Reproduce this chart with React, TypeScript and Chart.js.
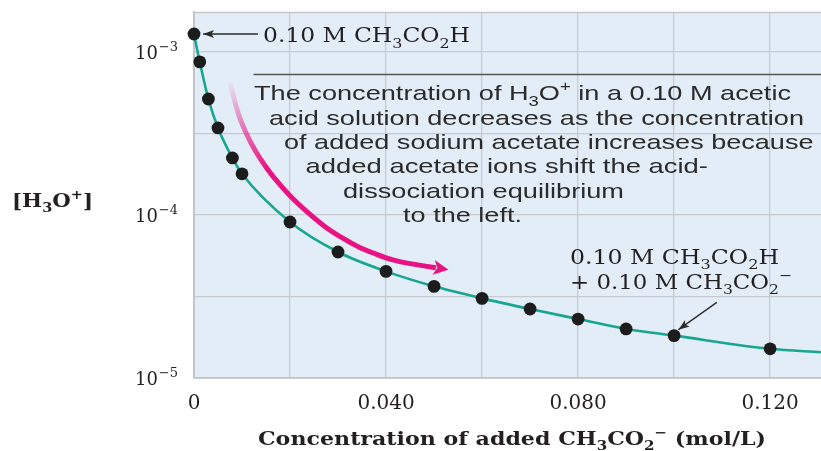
import React, { useEffect, useRef } from "react";
import { Chart, registerables } from "chart.js";
Chart.register(...registerables);

// ---- data ----
const conc = [0, 0.0012, 0.003, 0.005, 0.008, 0.010, 0.020, 0.030, 0.040, 0.050, 0.060, 0.070, 0.080, 0.090, 0.100, 0.120];
const h3o = [1.29e-3, 8.7e-4, 5.15e-4, 3.42e-4, 2.24e-4, 1.79e-4, 9.06e-5, 5.93e-5, 4.51e-5, 3.65e-5, 3.08e-5, 2.65e-5, 2.30e-5, 2.00e-5, 1.82e-5, 1.51e-5];
const curveEndX = [0.1306];
const curveEndY = [1.44e-5];

const xTickValues = [0, 0.02, 0.04, 0.06, 0.08, 0.10, 0.12];
const xTickLabels = ["0", "", "0.040", "", "0.080", "", "0.120"];
const yGridValues = [1e-5, 3.1623e-5, 1e-4, 3.1623e-4, 1e-3];
const yDecades = [1e-5, 1e-4, 1e-3];
const yDecadeExp = ["\u22125", "\u22124", "\u22123"];

// pink trend arrow (data space)
const arrowX = [0.0075, 0.00917, 0.01083, 0.0129, 0.0154, 0.0179, 0.0204, 0.02375, 0.0273, 0.0308, 0.0342, 0.0377, 0.04125, 0.045, 0.0504];
const arrowY = [6.48e-4, 4.24e-4, 3.2e-4, 2.445e-4, 1.896e-4, 1.534e-4, 1.277e-4, 1.033e-4, 8.48e-5, 7.26e-5, 6.39e-5, 5.79e-5, 5.32e-5, 5.03e-5, 4.75e-5];
const arrowTip = { x: 0.053, y: 4.62e-5 };

// callout arrows (data space)
const callTop = { fromX: 0.0133, fromY: 1.29e-3, toX: 0.0019, toY: 1.29e-3 };
const callLow = { fromX: 0.1089, fromY: 2.91e-5, toX: 0.1009, toY: 1.98e-5 };

type Seg = { t: string; s?: "sub" | "sup" };

const SERIF = "'DejaVu Serif', serif";
const SANS = "'Liberation Sans', Arial, sans-serif";
const TEXT = "#231f20";

function drawRich(ctx: CanvasRenderingContext2D, segs: Seg[], x: number, y: number, size: number, family: string, weight: string, color: string, targetW?: number, align: "left" | "right" = "left", subScale = 0.68) {
  const fnt = (sz: number) => `${weight} ${sz}px ${family}`;
  let w = 0;
  const widths: number[] = [];
  for (const g of segs) {
    ctx.font = fnt(g.s ? size * subScale : size);
    const mw = ctx.measureText(g.t).width;
    widths.push(mw);
    w += mw;
  }
  ctx.save();
  ctx.fillStyle = color;
  ctx.textBaseline = "alphabetic";
  ctx.textAlign = "left";
  const sx = targetW ? targetW / w : 1;
  const startX = align === "right" ? x - w * sx : x;
  ctx.translate(startX, y);
  ctx.scale(sx, 1);
  let cx = 0;
  segs.forEach((g, i) => {
    const sz = g.s ? size * subScale : size;
    ctx.font = fnt(sz);
    const dy = g.s === "sub" ? size * 0.28 : g.s === "sup" ? -size * 0.42 : 0;
    ctx.fillText(g.t, cx, dy);
    cx += widths[i];
  });
  ctx.restore();
}

function smoothPath(ctx: CanvasRenderingContext2D, pts: { x: number; y: number }[]) {
  ctx.moveTo(pts[0].x, pts[0].y);
  for (let i = 0; i < pts.length - 1; i++) {
    const p0 = pts[i - 1] || pts[i];
    const p1 = pts[i];
    const p2 = pts[i + 1];
    const p3 = pts[i + 2] || p2;
    ctx.bezierCurveTo(
      p1.x + (p2.x - p0.x) / 6, p1.y + (p2.y - p0.y) / 6,
      p2.x - (p3.x - p1.x) / 6, p2.y - (p3.y - p1.y) / 6,
      p2.x, p2.y
    );
  }
}

function arrowHead(ctx: CanvasRenderingContext2D, fx: number, fy: number, tx: number, ty: number, len: number, half: number) {
  const dx = tx - fx, dy = ty - fy;
  const d = Math.hypot(dx, dy) || 1;
  const ux = dx / d, uy = dy / d;
  const bx = tx - ux * len, by = ty - uy * len;
  ctx.beginPath();
  ctx.moveTo(tx, ty);
  ctx.lineTo(bx - uy * half, by + ux * half);
  ctx.lineTo(bx + ux * len * 0.25, by + uy * len * 0.25);
  ctx.lineTo(bx + uy * half, by - ux * half);
  ctx.closePath();
  ctx.fill();
}

const bgPlugin = {
  id: "bg",
  beforeDraw(chart: any) {
    const { ctx, chartArea: a } = chart;
    ctx.save();
    ctx.fillStyle = "#ffffff";
    ctx.fillRect(0, 0, chart.width, chart.height);
    ctx.fillStyle = "#e3edf8";
    ctx.fillRect(a.left, a.top, a.right - a.left, a.bottom - a.top);
    ctx.restore();
  },
  beforeDatasetsDraw(chart: any) {
    const { ctx, chartArea: a } = chart;
    ctx.save();
    ctx.strokeStyle = "#c3c7cc";
    ctx.lineWidth = 1.5;
    ctx.beginPath();
    ctx.moveTo(a.left, a.top + 0.5);
    ctx.lineTo(a.right, a.top + 0.5);
    ctx.stroke();
    ctx.restore();
  },
};

const overlayPlugin = {
  id: "overlay",
  afterDraw(chart: any) {
    const { ctx } = chart;
    const xs = chart.scales.x, ys = chart.scales.y;
    const px = (v: number) => xs.getPixelForValue(v);
    const py = (v: number) => ys.getPixelForValue(v);

    // pink arrow
    const pts = arrowX.map((x, i) => ({ x: px(x), y: py(arrowY[i]) }));
    ctx.save();
    const g = ctx.createLinearGradient(pts[0].x, pts[0].y, pts[4].x, pts[4].y);
    g.addColorStop(0, "rgba(232,18,130,0.04)");
    g.addColorStop(0.5, "rgba(232,18,130,0.55)");
    g.addColorStop(1, "rgba(232,18,130,1)");
    ctx.strokeStyle = g;
    ctx.lineWidth = 5;
    ctx.lineCap = "butt";
    ctx.lineJoin = "round";
    ctx.beginPath();
    smoothPath(ctx, pts);
    ctx.stroke();
    ctx.fillStyle = "rgb(232,18,130)";
    const last = pts[pts.length - 1];
    const tx = px(arrowTip.x), ty = py(arrowTip.y);
    arrowHead(ctx, last.x - (tx - last.x), last.y - (ty - last.y), tx, ty, 15, 7.5);
    ctx.restore();

    // callout arrows
    ctx.save();
    ctx.strokeStyle = "#2a2a2a";
    ctx.fillStyle = "#2a2a2a";
    ctx.lineWidth = 1.3;
    for (const c of [callTop, callLow]) {
      const fx = px(c.fromX), fy = py(c.fromY), tx2 = px(c.toX), ty2 = py(c.toY);
      ctx.beginPath();
      ctx.moveTo(fx, fy);
      ctx.lineTo(tx2, ty2);
      ctx.stroke();
      arrowHead(ctx, fx, fy, tx2, ty2, 11, 4);
    }
    ctx.restore();

    // y tick labels (10^n)
    yDecades.forEach((v, i) => {
      const y = py(v) + 7;
      const right = ys.right - 16;
      ctx.save();
      ctx.font = `13px ${SERIF}`;
      const supW = ctx.measureText(yDecadeExp[i]).width;
      ctx.fillStyle = TEXT;
      ctx.fillText(yDecadeExp[i], right - supW, y - 8);
      ctx.font = `18px ${SERIF}`;
      const bw = ctx.measureText("10").width;
      ctx.fillText("10", right - supW - bw - 1, y);
      ctx.restore();
    });

    // text annotations
    const acid: Seg[] = [{ t: "0.10 M CH" }, { t: "3", s: "sub" }, { t: "CO" }, { t: "2", s: "sub" }, { t: "H" }];
    drawRich(ctx, acid, 263, 42, 20, SERIF, "normal", TEXT, 207);
    drawRich(ctx, acid, 570, 263.5, 20, SERIF, "normal", TEXT, 209);
    drawRich(ctx, [{ t: "+ 0.10 M CH" }, { t: "3", s: "sub" }, { t: "CO" }, { t: "2", s: "sub" }, { t: "\u2212", s: "sup" }], 570, 288.5, 20, SERIF, "normal", TEXT, 222);

    // paragraph
    ctx.save();
    ctx.strokeStyle = "#555";
    ctx.lineWidth = 1.5;
    ctx.beginPath();
    ctx.moveTo(253.5, 74.5);
    ctx.lineTo(chart.width, 74.5);
    ctx.stroke();
    ctx.restore();
    const PC = "#2b2b2b";
    drawRich(ctx, [{ t: "The concentration of H" }, { t: "3", s: "sub" }, { t: "O" }, { t: "+", s: "sup" }, { t: " in a 0.10 M acetic" }], 254, 100, 21, SANS, "normal", PC, 537);
    drawRich(ctx, [{ t: "acid solution decreases as the concentration" }], 269, 124.5, 21, SANS, "normal", PC, 535);
    drawRich(ctx, [{ t: "of added sodium acetate increases because" }], 284, 148.5, 21, SANS, "normal", PC, 529.5);
    drawRich(ctx, [{ t: "added acetate ions shift the acid-" }], 305.5, 173, 21, SANS, "normal", PC, 402.5);
    drawRich(ctx, [{ t: "dissociation equilibrium" }], 343, 197.5, 21, SANS, "normal", PC, 281);
    drawRich(ctx, [{ t: "to the left." }], 403, 222, 21, SANS, "normal", PC, 119);

    // axis titles
    drawRich(ctx, [{ t: "[H" }, { t: "3", s: "sub" }, { t: "O" }, { t: "+", s: "sup" }, { t: "]" }], 12, 207, 18, SERIF, "bold", TEXT, 81);
    drawRich(ctx, [{ t: "Concentration of added CH" }, { t: "3", s: "sub" }, { t: "CO" }, { t: "2", s: "sub" }, { t: "\u2212", s: "sup" }, { t: " (mol/L)" }], 258, 445, 19, SERIF, "bold", TEXT, 508);
  },
};

export default function App() {
  const ref = useRef<HTMLCanvasElement | null>(null);
  useEffect(() => {
    if (!ref.current) return;
    const pointsData = conc.map((x, i) => ({ x, y: h3o[i] }));
    const curveData = [...pointsData, ...curveEndX.map((x, i) => ({ x, y: curveEndY[i] }))];
    const gridColor = "#c6cacf";
    const chart = new Chart(ref.current, {
      type: "line",
      data: {
        datasets: [
          {
            label: "measured",
            data: pointsData,
            showLine: false,
            pointRadius: 6.4,
            pointBackgroundColor: "#1c1c1c",
            pointBorderColor: "#1c1c1c",
            pointBorderWidth: 0,
            clip: false as any,
            order: 0,
          },
          {
            label: "curve",
            data: curveData,
            borderColor: "#17a68f",
            borderWidth: 2.6,
            pointRadius: 0,
            cubicInterpolationMode: "monotone",
            fill: false,
            clip: false as any,
            order: 1,
          },
        ],
      },
      options: {
        responsive: false,
        animation: false,
        devicePixelRatio: 1,
        layout: { autoPadding: false, padding: { top: 12, left: 0, right: 0, bottom: 0 } },
        plugins: { legend: { display: false }, tooltip: { enabled: false } },
        scales: {
          x: {
            type: "linear",
            min: 0,
            max: 0.1306,
            afterBuildTicks: (s: any) => {
              s.ticks = xTickValues.map((v) => ({ value: v }));
            },
            ticks: {
              callback: (_v: any, i: number) => xTickLabels[i],
              font: { family: SERIF, size: 20 },
              color: TEXT,
              padding: 14,
              maxRotation: 0,
              autoSkip: false,
            },
            grid: { color: gridColor, drawTicks: false, lineWidth: 1.3 },
            border: { color: "#bfc3c8", width: 1.8 },
            afterFit: (s: any) => {
              s.height = 73;
              s.paddingLeft = 0;
              s.paddingRight = 0;
            },
          },
          y: {
            type: "logarithmic",
            min: 1e-5,
            max: 1.76e-3,
            afterBuildTicks: (s: any) => {
              s.ticks = yGridValues.map((v) => ({ value: v }));
            },
            ticks: { display: false },
            grid: { color: gridColor, drawTicks: false, lineWidth: 1.3 },
            border: { color: "#bfc3c8", width: 1.8 },
            afterFit: (s: any) => {
              s.width = 194;
              s.paddingTop = 0;
              s.paddingBottom = 0;
            },
          },
        },
      } as any,
      plugins: [bgPlugin, overlayPlugin],
    });
    return () => chart.destroy();
  }, []);
  return (
    <div style={{ position: "absolute", left: 0, top: 0, width: 821, height: 451, background: "#fff" }}>
      <canvas ref={ref} width={821} height={451} style={{ display: "block", width: 821, height: 451 }} />
    </div>
  );
}
